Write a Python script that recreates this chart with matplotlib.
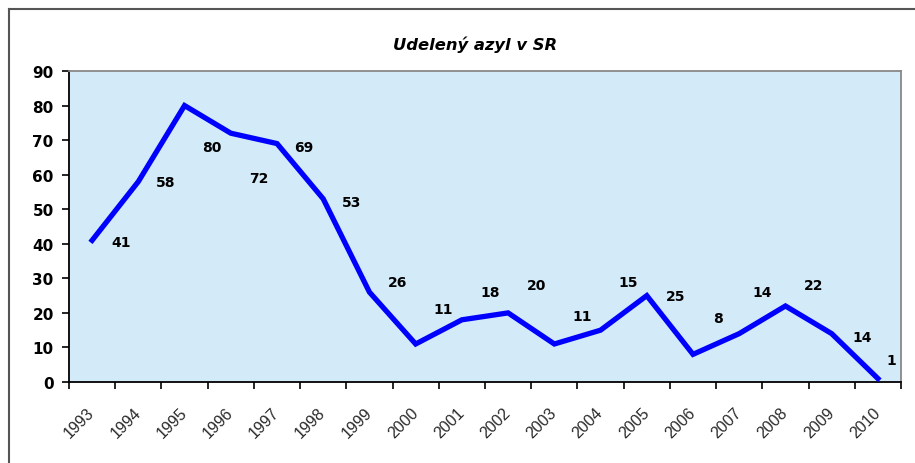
import matplotlib
matplotlib.use("Agg")
import matplotlib.pyplot as plt
import numpy as np
from matplotlib.lines import Line2D

years = ["1993", "1994", "1995", "1996", "1997", "1998", "1999", "2000", "2001",
         "2002", "2003", "2004", "2005", "2006", "2007", "2008", "2009", "2010"]
values = [41, 58, 80, 72, 69, 53, 26, 11, 18, 20, 11, 15, 25, 8, 14, 22, 14, 1]
# data-label placement (as positioned in the original chart)
label_y = [40.5, 58, 68, 59, 68, 52, 29, 21, 26, 28, 19, 29, 25, 18.5, 26, 28, 13, 6.5]
label_dx = [0.62, 0.6, 0.6, 0.6, 0.57, 0.62, 0.6, 0.6, 0.62, 0.62, 0.6, 0.6, 0.62, 0.55, 0.5, 0.62, 0.65, 0.28]

W, H = 915, 464
fig = plt.figure(figsize=(W / 100, H / 100), dpi=100)
fig.patch.set_facecolor("white")

left, right, top, bottom = 69, 901, 72, 383
ax = fig.add_axes([left / W, 1 - bottom / H, (right - left) / W, (bottom - top) / H])
ax.set_facecolor("#D3EBF9")

n = len(years)
x = np.arange(n)
ax.plot(x, values, color="#0000FF", lw=3.8, solid_joinstyle="miter", zorder=3)

for xi, ly, dx, v in zip(x, label_y, label_dx, values):
    ax.text(xi + dx, ly, str(v), ha="center", va="center", fontsize=10,
            fontweight="bold", family="DejaVu Sans", color="black", zorder=4)

ax.set_xlim(-0.5, n - 0.5)
ax.set_ylim(0, 90)
ax.set_yticks(np.arange(0, 91, 10))
ax.set_yticklabels([str(t) for t in range(0, 91, 10)], fontsize=11,
                   fontweight="bold", family="DejaVu Sans")
ax.set_xticks(np.arange(-0.5, n, 1.0))
ax.set_xticklabels([])
ax.set_xticks(x, minor=True)
ax.set_xticklabels(years, minor=True, rotation=45, ha="right", va="center",
                   rotation_mode="anchor", fontsize=11.5, family="Liberation Sans",
                   color="#2a2a2a")
ax.tick_params(axis="x", which="minor", length=0, pad=20)
ax.tick_params(axis="x", which="major", length=5, width=1.2, color="black", direction="out")
ax.tick_params(axis="y", length=5, width=1.2, color="black", direction="out", pad=6)

for s in ["left", "bottom"]:
    ax.spines[s].set_color("black")
    ax.spines[s].set_linewidth(1.3)
for s in ["top", "right"]:
    ax.spines[s].set_color("#888888")
    ax.spines[s].set_linewidth(1.3)

fig.text(475 / W, 1 - 45 / H, "Udelený azyl v SR", ha="center", va="center",
         fontsize=11.8, fontweight="bold", fontstyle="italic", family="DejaVu Sans")

# outer chart frame (left and top edges visible)
fig.add_artist(Line2D([9 / W, 9 / W], [0, 1 - 10 / H], transform=fig.transFigure,
                      color="#555555", lw=1.5))
fig.add_artist(Line2D([9 / W, 1], [1 - 10 / H, 1 - 10 / H], transform=fig.transFigure,
                      color="#555555", lw=1.5))

fig.savefig("out.png", dpi=100)
